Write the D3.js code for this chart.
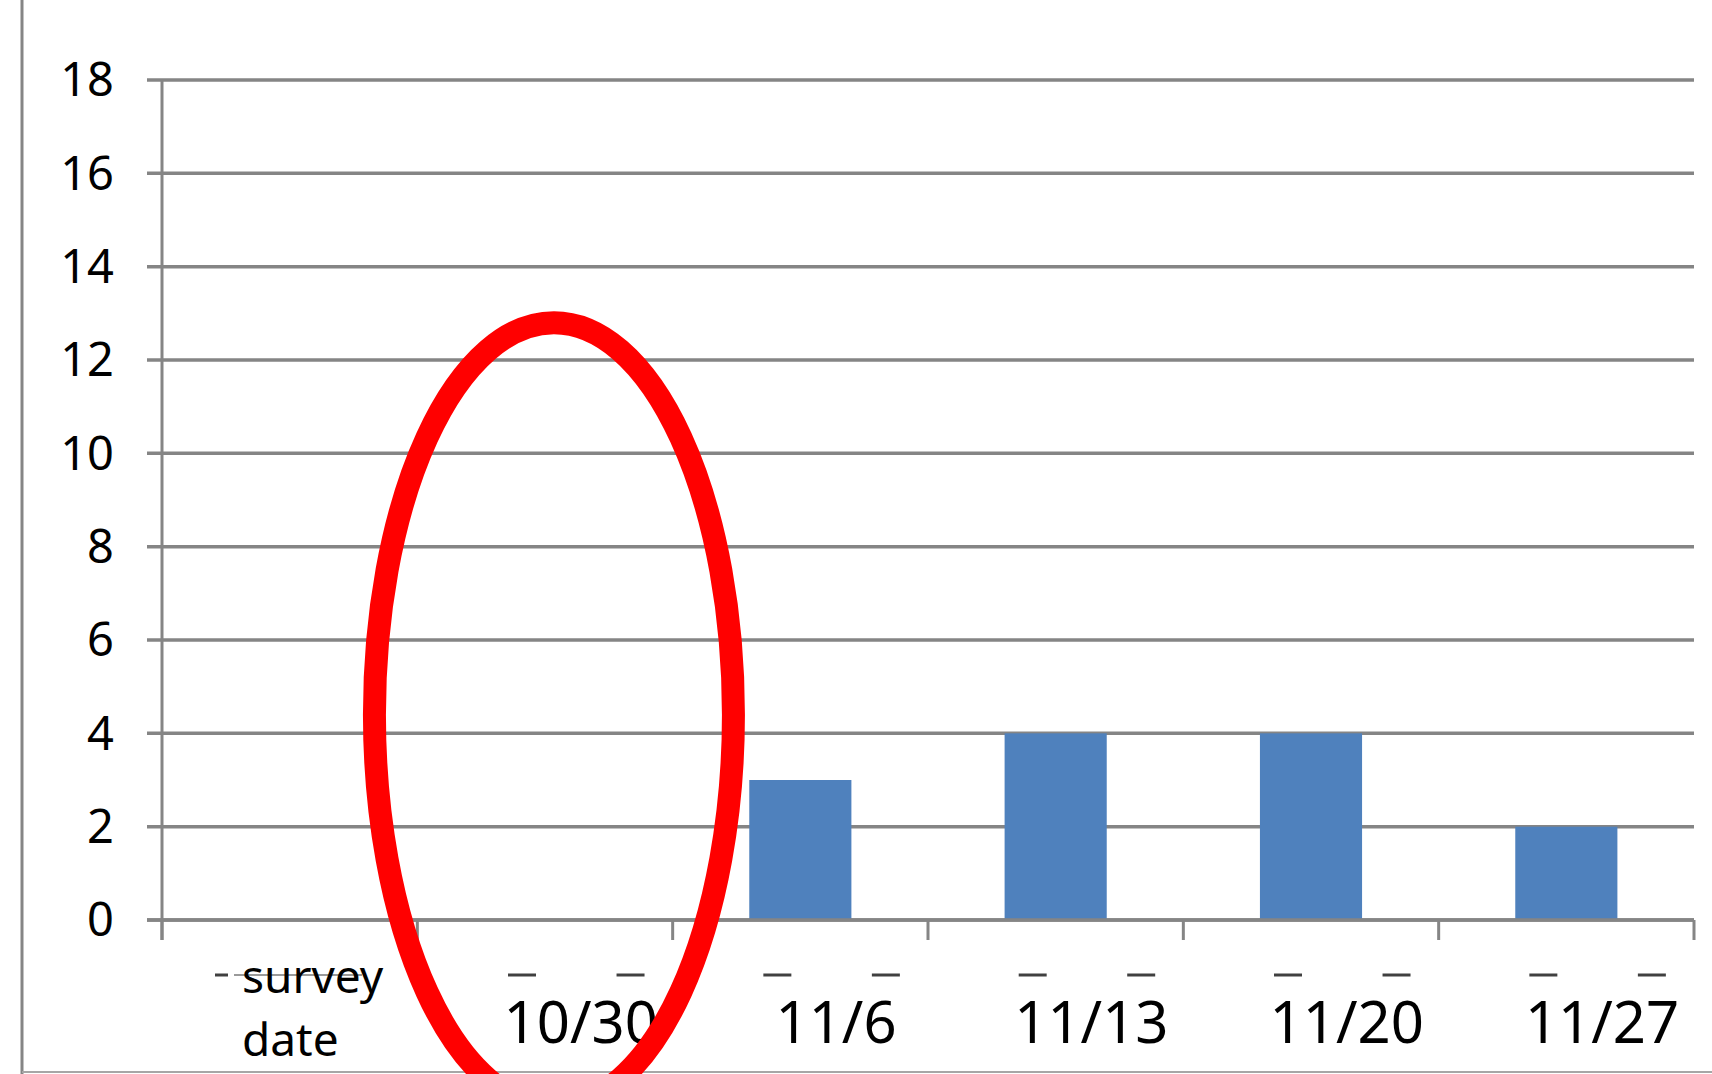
<!DOCTYPE html>
<html>
<head>
<meta charset="utf-8">
<script src="https://cdn.jsdelivr.net/npm/d3@7"></script>
<style>
  body { margin: 0; background: #fff; }
  svg { display: block; }
  text { font-family: "Noto Sans", sans-serif; fill: #000; }
</style>
</head>
<body>
<svg id="chart"></svg>
<script>
let categories = ['survey date', '10/30', '11/6', '11/13', '11/20', '11/27']
let values     = [null, 0, 3, 4, 4, 2]
let yTicks     = [0, 2, 4, 6, 8, 10, 12, 14, 16, 18]
let circled    = '10/30'

let width  = 1712
let height = 1074
let plotLeft = 162, plotRight = 1694, plotTop = 80, plotBottom = 920
let grey = '#858585'

let svg = d3.select('#chart')
  .attr('width', width)
  .attr('height', height)

let x = d3.scaleBand()
  .domain(categories)
  .range([plotLeft, plotRight])
  .padding(0)

let y = d3.scaleLinear()
  .domain([0, 18])
  .range([plotBottom, plotTop])

let bw = x.bandwidth()

// frame left of the chart and along the bottom
svg.append('line')
  .attr('x1', 22).attr('x2', 22)
  .attr('y1', 0).attr('y2', height)
  .attr('stroke', grey).attr('stroke-width', 3)

svg.append('line')
  .attr('x1', 22).attr('x2', width)
  .attr('y1', height - 2).attr('y2', height - 2)
  .attr('stroke', '#a6a6a6').attr('stroke-width', 2)

// gridlines
svg.append('g')
  .selectAll('line')
  .data(yTicks)
  .join('line')
  .attr('x1', plotLeft - 15)
  .attr('x2', plotRight)
  .attr('y1', d => y(d))
  .attr('y2', d => y(d))
  .attr('stroke', grey)
  .attr('stroke-width', 3.5)

// y axis line
svg.append('line')
  .attr('x1', plotLeft).attr('x2', plotLeft)
  .attr('y1', y(18)).attr('y2', y(0) + 20)
  .attr('stroke', grey).attr('stroke-width', 3)

// y labels
svg.append('g')
  .selectAll('text')
  .data(yTicks)
  .join('text')
  .attr('x', 114)
  .attr('y', d => y(d))
  .attr('dy', '0.35em')
  .attr('text-anchor', 'end')
  .style('font-size', '47px')
  .text(d => d)

// x tick marks at band edges
let edges = categories.map(c => x(c)).concat([plotRight])
svg.append('g')
  .selectAll('line')
  .data(edges)
  .join('line')
  .attr('x1', d => d).attr('x2', d => d)
  .attr('y1', y(0)).attr('y2', y(0) + 20)
  .attr('stroke', grey)
  .attr('stroke-width', 3)

// bars
svg.append('g')
  .selectAll('rect')
  .data(categories.map((c, i) => ({ c: c, v: values[i] })).filter(d => d.v))
  .join('rect')
  .attr('x', d => x(d.c) + bw * 0.3)
  .attr('width', bw * 0.4)
  .attr('y', d => y(d.v))
  .attr('height', d => y(0) - y(d.v))
  .attr('fill', '#4f81bd')

// redraw x axis over bar bottoms
svg.append('line')
  .attr('x1', plotLeft - 15).attr('x2', plotRight)
  .attr('y1', y(0)).attr('y2', y(0))
  .attr('stroke', grey).attr('stroke-width', 3.5)

// little dashes above the date labels
let dashPos = [0.41, 0.835]
svg.append('g')
  .selectAll('line')
  .data(categories.slice(1).flatMap(c => dashPos.map(p => x(c) + bw * p)))
  .join('line')
  .attr('x1', d => d - 14).attr('x2', d => d + 14)
  .attr('y1', 975).attr('y2', 975)
  .attr('stroke', '#404040')
  .attr('stroke-width', 3)

// the first category carries a two line label
let first = svg.append('g')
first.append('line')
  .attr('x1', x(categories[0]) + 53).attr('x2', x(categories[0]) + 66)
  .attr('y1', 975).attr('y2', 975)
  .attr('stroke', '#404040').attr('stroke-width', 3)
first.append('line')
  .attr('x1', x(categories[0]) + 72).attr('x2', x(categories[0]) + 200)
  .attr('y1', 975).attr('y2', 975)
  .attr('stroke', '#9a9a9a').attr('stroke-width', 2)

first.append('text')
  .attr('x', x(categories[0]) + 80)
  .attr('y', 993)
  .style('font-size', '46px')
  .selectAll('tspan')
  .data(categories[0].split(' '))
  .join('tspan')
  .attr('x', x(categories[0]) + 80)
  .attr('dy', (d, i) => i ? 63 : 0)
  .text(d => d)

// date labels
svg.append('g')
  .selectAll('text')
  .data(categories.slice(1))
  .join('text')
  .attr('x', d => x(d) + bw * 0.64)
  .attr('y', 1043)
  .attr('text-anchor', 'middle')
  .style('font-size', '58px')
  .text(d => d)

// red highlight ellipse around the empty week
svg.append('ellipse')
  .attr('cx', x(circled) + bw * 0.535)
  .attr('cy', y(4.4))
  .attr('rx', bw * 0.703)
  .attr('ry', y(0) - y(8.4))
  .attr('fill', 'none')
  .attr('stroke', '#ff0000')
  .attr('stroke-width', 23)
</script>
</body>
</html>
